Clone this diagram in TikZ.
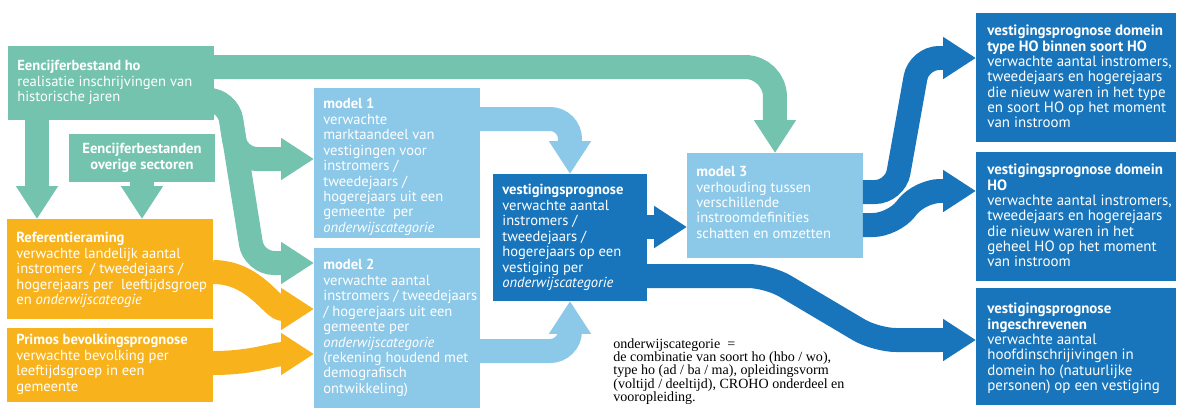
\documentclass[tikz,border=0pt]{standalone}
\usepackage{fontspec}
\setsansfont{PT Sans}
\setmainfont{Liberation Serif}
\usepackage{tikz}
\usetikzlibrary{arrows.meta,calc}

\definecolor{rogreen}{RGB}{115,195,174}
\definecolor{roorange}{RGB}{248,178,28}
\definecolor{rolight}{RGB}{140,200,232}
\definecolor{rodark}{RGB}{24,117,187}
\newcommand\tightlines{\lineskiplimit=-5pt\relax}

\begin{document}
\begin{tikzpicture}[x=0.02cm,y=-0.02cm,
  box/.style={anchor=north west,inner sep=0pt,outer sep=0pt,draw=none},
  green box/.style={box,fill=rogreen},
  orange box/.style={box,fill=roorange},
  light box/.style={box,fill=rolight},
  dark box/.style={box,fill=rodark},
  box text/.style={anchor=north west,inner sep=0pt,xshift=0.18cm,yshift=-#1*0.02cm,
    align=left,text=white,font=\sffamily\fontsize{8.3pt}{8.8pt}\selectfont\tightlines},
  box text/.default=10,
  wide text/.style={box text=#1,xshift=0.04cm,font=\sffamily\fontsize{8.5pt}{8.7pt}\selectfont\tightlines},
  wide text/.default=12,
  fat band/.style={line width=0.48cm,rounded corners=0.4cm},
  fat arrow/.style={fat band,-{Triangle[width=0.8cm,length=0.66cm]}},
  green arrow/.style={fat arrow,draw=rogreen},
  orange arrow/.style={fat arrow,draw=roorange},
  light arrow/.style={fat arrow,draw=rolight},
  dark arrow/.style={fat arrow,draw=rodark},
  dark band/.style={fat band,draw=rodark}]
  \useasboundingbox (0,0) rectangle (1179,416);

  \node (eenc) [green box,minimum width=4.12cm,minimum height=1.48cm,
    label={[box text=14]north west:\textbf{Eencijferbestand ho}\\realisatie inschrijvingen van\\historische jaren}] at (8,46) {};
  \node (overig) [green box,minimum width=2.92cm,minimum height=0.96cm,text=white,align=center,
    font=\sffamily\bfseries\fontsize{8.3pt}{8.8pt}\selectfont] at (69,134) {Eencijferbestanden\\overige sectoren};
  \node (ref) [orange box,minimum width=4.12cm,minimum height=2cm,
    label={[box text=13]north west:\textbf{Referentieraming}\\verwachte landelijk aantal\\instromers~ / tweedejaars /\\hogerejaars per~ leeftijdsgroep\\en \textit{onderwijscateogie}}] at (7,219) {};
  \node (primos) [orange box,minimum width=4.12cm,minimum height=1.48cm,
    label={[box text=6]north west:\textbf{Primos bevolkingsprognose}\\verwachte bevolking per\\leeftijdsgroep in een\\gemeente}] at (7,328) {};
  \node (m1) [light box,minimum width=3.32cm,minimum height=3cm,
    label={[box text]north west:\textbf{model 1}\\verwachte\\marktaandeel van\\vestigingen voor\\instromers /\\tweedejaars /\\hogerejaars uit een\\gemeente~ per\\\textit{onderwijscategorie}}] at (314,88) {};
  \node (m2) [light box,minimum width=3.32cm,minimum height=3.2cm,
    label={[box text=11]north west:\textbf{model 2}\\verwachte aantal\\instromers / tweedejaars\\/ hogerejaars uit een\\gemeente per\\\textit{onderwijscategorie}\\(rekening houdend met\\demografisch\\ontwikkeling)}] at (314,248) {};
  \node (vest) [dark box,minimum width=3.08cm,minimum height=2.54cm,
    label={[box text]north west:\textbf{vestigingsprognose}\\verwachte aantal\\instromers /\\tweedejaars /\\hogerejaars op een\\vestiging per\\\textit{onderwijscategorie}}] at (493,174) {};
  \node (m3) [light box,minimum width=3.52cm,minimum height=2.1cm,
    label={[box text=13]north west:\textbf{model 3}\\verhouding tussen\\verschillende\\instroomdefinities\\schatten en omzetten}] at (687,153) {};
  \node (r1) [dark box,minimum width=4cm,minimum height=2.58cm,
    label={[wide text]north west:\textbf{vestigingsprognose domein}\\\textbf{type HO binnen soort HO}\\verwachte aantal instromers,\\tweedejaars en hogerejaars\\die nieuw waren in het type\\en soort HO op het moment\\van instroom}] at (976,13) {};
  \node (r2) [dark box,minimum width=4cm,minimum height=2.58cm,
    label={[wide text]north west:\textbf{vestigingsprognose domein}\\\textbf{HO}\\verwachte aantal instromers,\\tweedejaars en hogerejaars\\die nieuw waren in het\\geheel HO op het moment\\van instroom}] at (976,152) {};
  \node (r3) [dark box,minimum width=4cm,minimum height=2.34cm,
    label={[wide text=15]north west:\textbf{vestigingsprognose}\\\textbf{ingeschrevenen}\\verwachte aantal\\hoofdinschrijivingen in\\domein ho (natuurlijke\\personen) op een vestiging}] at (976,288) {};
  \node (note) [anchor=north west,inner sep=0pt,align=left,
    font=\rmfamily\fontsize{8pt}{7.6pt}\selectfont\tightlines]
    at (613,338) {onderwijscategorie~ =\\de combinatie van soort ho (hbo / wo),\\type ho (ad / ba / ma), opleidingsvorm\\(voltijd / deeltijd), CROHO onderdeel en\\vooropleiding.};

  \coordinate (r1in) at (940,58);
  \coordinate (r2in) at (940,191);
  \coordinate (r3in) at (940,340);

  \draw[green arrow,rounded corners=0.6cm] (eenc.east |- 0,67) -| (m3.north);
  \draw[green arrow] (eenc.south -| 37,0) -- (ref.north -| 37,0);
  \draw[green arrow] (overig.south) -- (ref.north -| overig.south);
  \draw[green arrow] (eenc.east |- 0,100) -- (228,100) -- (237,159) -- (m1.west |- 0,159);
  \draw[green arrow] (eenc.east |- 0,100) -- (228,100) -- (254,263) -- (m2.west |- 0,263);
  \draw[orange arrow] (ref.east |- 0,272) to[out=0,in=180] (m2.west |- 0,309);
  \draw[orange arrow] (primos.east |- 0,363) to[out=0,in=180] (m2.west |- 0,354);
  \draw[light arrow] (m1.east |- 0,119) -| (vest.north);
  \draw[light arrow] (m2.east |- 0,351) -| (vest.south);
  \draw[dark arrow] (vest.east |- 0,227) -- (m3.west |- 0,227);
  \draw[dark band] (vest.east |- 0,276) -- (768,276) -- (876,340) -- (r3in);
  \draw[dark arrow] (r3in) -- (r3.west |- r3in);
  \draw[dark band] (m3.east |- 0,192) -- (895,192) -- (919,58) -- (r1in);
  \draw[dark arrow] (r1in) -- (r1.west |- r1in);
  \draw[dark band] (m3.east |- 0,225) -- (893,225) -- (920,191) -- (r2in);
  \draw[dark arrow] (r2in) -- (r2.west |- r2in);
\end{tikzpicture}
\end{document}
